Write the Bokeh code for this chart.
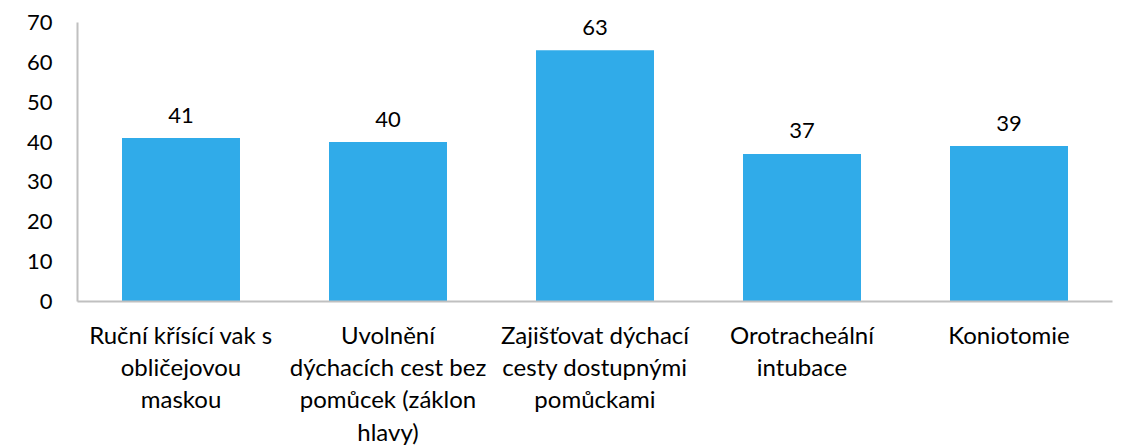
from bokeh.plotting import figure
from bokeh.models import Range1d, FactorRange, LabelSet, ColumnDataSource, FixedTicker
from bokeh.core.properties import value
from bokeh.embed import file_html
from bokeh.resources import INLINE

categories = [
    "Ruční křísící vak s\nobličejovou\nmaskou",
    "Uvolnění\ndýchacích cest bez\npomůcek (záklon\nhlavy)",
    "Zajišťovat dýchací\ncesty dostupnými\npomůckami",
    "Orotracheální\nintubace",
    "Koniotomie",
]
values = [41, 40, 63, 37, 39]
y_ticks = [0, 10, 20, 30, 40, 50, 60, 70]

FONT = "Lato"
BAR = "#30ABE9"
AXIS = "#C0C0C0"

src = ColumnDataSource(dict(cat=categories, val=values, lab=[str(v) for v in values]))

p = figure(
    x_range=FactorRange(*categories, range_padding=0.0),
    y_range=Range1d(0, 75),
    width=1124, height=448,
    output_backend="svg", toolbar_location=None,
    min_border_left=77, min_border_right=12, min_border_top=2, min_border_bottom=146,
)
p.x_range.factor_padding = 0.0
p.vbar(x="cat", top="val", width=0.57, source=src, color=BAR, line_color=None)

labels = LabelSet(x="cat", y="val", text="lab", source=src, text_align="center",
                  text_baseline="middle", y_offset=23, text_font=value(FONT),
                  text_font_size=value("22px"), text_color="#000000")
p.add_layout(labels)

p.outline_line_color = None
p.xgrid.visible = False
p.ygrid.visible = False

p.yaxis.ticker = FixedTicker(ticks=y_ticks)
p.yaxis.bounds = (0, 70)
p.yaxis.major_tick_line_color = None
p.yaxis.minor_tick_line_color = None
p.yaxis.major_tick_out = 0
p.yaxis.major_label_standoff = 25
p.yaxis.axis_line_color = AXIS
p.yaxis.axis_line_width = 2
p.yaxis.major_label_text_font = FONT
p.yaxis.major_label_text_font_size = "22px"
p.yaxis.major_label_text_color = "#000000"

p.xaxis.major_tick_line_color = None
p.xaxis.minor_tick_line_color = None
p.xaxis.major_tick_out = 0
p.xaxis.major_label_standoff = 18
p.xaxis.axis_line_color = AXIS
p.xaxis.axis_line_width = 2
p.xaxis.major_label_text_font = FONT
p.xaxis.major_label_text_font_size = "24px"
p.xaxis.major_label_text_color = "#000000"
p.xaxis.major_label_text_line_height = 1.12
p.xaxis.major_label_orientation = "horizontal"

open("out.html", "w").write(file_html(p, INLINE))
